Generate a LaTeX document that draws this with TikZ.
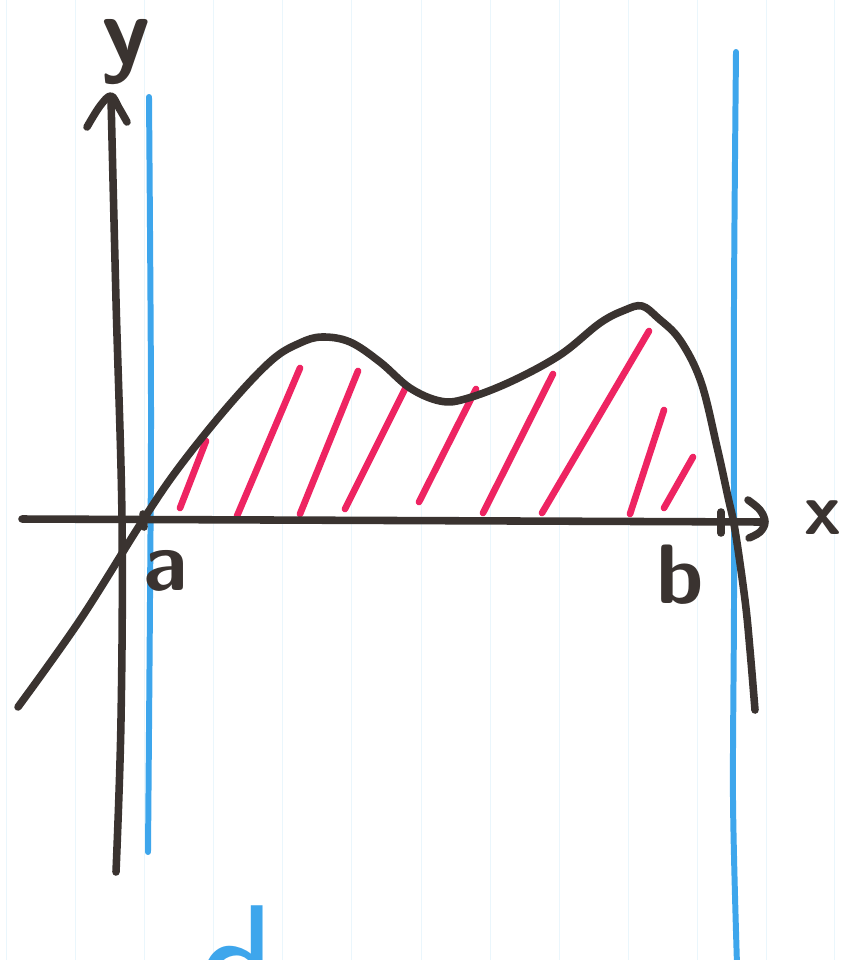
\documentclass[tikz,border=0pt]{standalone}
\usepackage{fontspec}
\definecolor{ink}{HTML}{3A3330}
\definecolor{ruling}{HTML}{EAF6FC}
\definecolor{guideblue}{HTML}{3EA6EC}
\definecolor{hatchred}{HTML}{EE2462}
\begin{document}
\begin{tikzpicture}[x=0.02cm,y=-0.02cm,
  marker/.style={draw=ink,line width=4.3pt,line cap=round,line join=round},
  guide/.style={draw=guideblue,line width=3.4pt,line cap=round},
  hatchline/.style={draw=hatchred,line width=3.8pt,line cap=round},
  rulingline/.style={draw=ruling,line width=0.5pt},
  hand/.style={text=ink,inner sep=0pt,font=\sffamily\bfseries\fontsize{48}{48}\selectfont}]
\fill[white] (0,0) rectangle (848,960);
\useasboundingbox (0,0) rectangle (848,960);
\clip (0,0) rectangle (848,960);
\draw[rulingline] (6,0) -- (6,960);
\draw[rulingline] (75,0) -- (75,960);
\draw[rulingline] (144,0) -- (144,960);
\draw[rulingline] (213,0) -- (213,960);
\draw[rulingline] (282,0) -- (282,960);
\draw[rulingline] (351,0) -- (351,960);
\draw[rulingline] (421,0) -- (421,960);
\draw[rulingline] (490,0) -- (490,960);
\draw[rulingline] (559,0) -- (559,960);
\draw[rulingline] (628,0) -- (628,960);
\draw[rulingline] (697,0) -- (697,960);
\draw[rulingline] (766,0) -- (766,960);
\draw[rulingline] (834,0) -- (834,960);
\draw[guide] plot[smooth] coordinates {(149,97) (151,400) (150,600) (148,852)};
\draw[guide] plot[smooth] coordinates {(736,52) (734,300) (734,600) (733,800) (737,965)};
\draw[hatchline] (180,508) -- (206,441);
\draw[hatchline] (237,516) -- (300,368);
\draw[hatchline] (300,514) -- (358,371);
\draw[hatchline] (345,509) -- (406,387);
\draw[hatchline] (419,502) -- (476,389);
\draw[hatchline] (483,513) -- (553,374);
\draw[hatchline] (542,513) -- (649,331);
\draw[hatchline] (630,514) -- (664,410);
\draw[hatchline] (664,508) -- (693,457);
\draw[marker] (22,519) -- (762,522);
\draw[marker] plot[smooth,tension=0.6] coordinates {(116,872) (121,720) (122,520) (116,300) (111,98)};
\draw[marker] plot[smooth,tension=0.6] coordinates {(87,127) (100,106) (111,96) (119,108) (127,122)};
\draw[marker] plot[smooth,tension=0.6] coordinates {(748,500) (760,510) (765,522) (760,532) (749,538)};
\draw[marker] (143,514) -- (144,527);
\draw[marker] (721,512) -- (721,533);
\draw[marker] plot[smooth,tension=0.6] coordinates {(18,707) (80,620) (143,520) (180,466) (230,404) (272,360) (300,343) (322,337) (350,342) (380,362) (410,388) (440,401) (465,399) (510,382) (560,355) (600,323) (625,310) (642,306) (658,318) (680,340) (701,382) (717,447) (728,497) (735,530) (745,600) (750,650) (755,710)};
\node[hand,font=\sffamily\bfseries\fontsize{56}{56}\selectfont] (ylabel) at (126,52) {y};
\node[hand] (alabel) at (166,571) {a};
\node[hand] (blabel) at (680,575) {b};
\node[hand,font=\sffamily\bfseries\fontsize{42}{42}\selectfont] (xlabel) at (823,518) {x};
\node[text=guideblue,inner sep=0pt,anchor=base east,font=\sffamily\fontsize{90}{90}\selectfont] (dlabel) at (275,1015) {d};
\end{tikzpicture}
\end{document}
